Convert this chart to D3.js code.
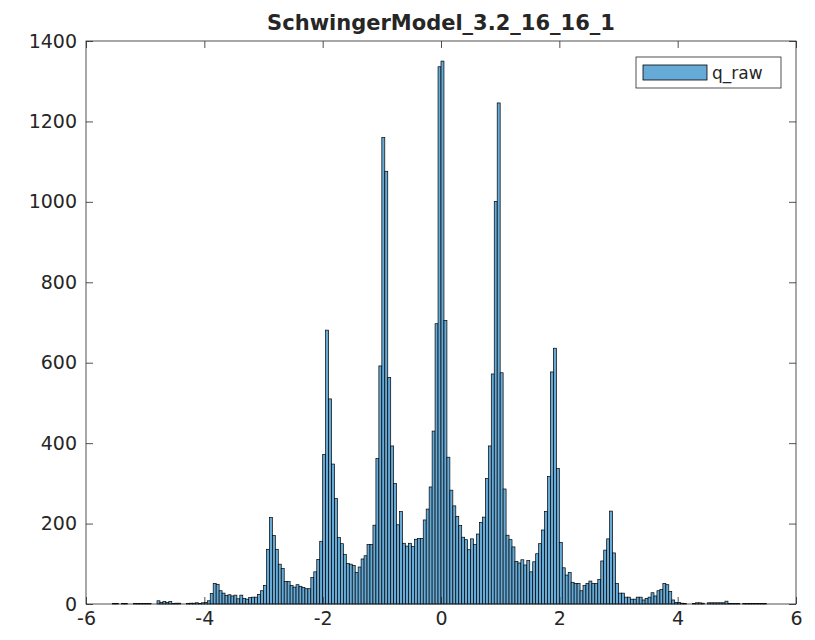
<!DOCTYPE html>
<html>
<head>
<meta charset="utf-8">
<script src="https://cdn.jsdelivr.net/npm/d3@7"></script>
<style>
  html, body { margin: 0; padding: 0; background: #fff; }
  svg { display: block; }
  text { font-family: "DejaVu Sans", sans-serif; fill: #262626; }
</style>
</head>
<body>
<svg id="chart" width="815" height="640"></svg>
<script>
// Histogram of q_raw: first bin's left edge and the common bin width
const binStart = -5.6;
const binWidth = 0.05;

// Counts per bin, left to right
const counts = [
  0, 1, 1, 0, 1, 1, 0, 0, 1, 1,            // -5.60 .. -5.15
  1, 1, 1, 1, 0, 0, 8, 4, 6, 4,            // -5.10 .. -4.65
  6, 1, 2, 2, 0, 0, 1, 2, 2, 3,            // -4.60 .. -4.15
  1, 3, 4, 8, 26, 51, 49, 33, 27, 21,      // -4.10 .. -3.65
  23, 20, 22, 13, 22, 14, 12, 16, 17, 17,  // -3.60 .. -3.15
  24, 33, 46, 136, 215, 170, 136, 99, 88, 56, // -3.10 .. -2.65
  56, 46, 42, 48, 44, 41, 38, 38, 66, 80,  // -2.60 .. -2.15
  111, 156, 372, 681, 510, 348, 262, 165, 150, 123, // -2.10 .. -1.65
  101, 99, 96, 78, 92, 112, 120, 148, 148, 196,     // -1.60 .. -1.15
  362, 592, 1160, 1076, 563, 393, 300, 197, 230, 151, // -1.10 .. -0.65
  144, 151, 143, 161, 163, 163, 209, 236, 291, 430,   // -0.60 .. -0.15
  697, 1336, 1350, 705, 365, 283, 244, 218, 195, 166, // -0.10 .. 0.35
  160, 135, 162, 148, 174, 203, 216, 312, 393, 572,   // 0.40 .. 0.85
  1001, 1246, 575, 286, 171, 160, 142, 106, 102, 110, // 0.90 .. 1.35
  97, 108, 80, 105, 125, 150, 184, 230, 317, 577,     // 1.40 .. 1.85
  636, 337, 153, 90, 72, 78, 54, 51, 51, 33,          // 1.90 .. 2.35
  46, 51, 57, 51, 51, 61, 107, 134, 162, 231,         // 2.40 .. 2.85
  127, 51, 27, 27, 17, 17, 12, 12, 17, 17,            // 2.90 .. 3.35
  10, 14, 17, 28, 20, 33, 36, 51, 48, 31,             // 3.40 .. 3.85
  10, 4, 4, 2, 1, 0, 0, 1, 3, 3,                      // 3.90 .. 4.35
  2, 0, 3, 3, 3, 3, 3, 3, 7, 1,                       // 4.40 .. 4.85
  1, 1, 1, 0, 1, 1, 1, 1, 1, 1,                       // 4.90 .. 5.35
  1, 1                                                // 5.40 .. 5.45
];

const xTicks = [-6, -4, -2, 0, 2, 4, 6];
const yTicks = [0, 200, 400, 600, 800, 1000, 1200, 1400];
const chartTitle = "SchwingerModel_3.2_16_16_1";
const seriesName = "q_raw";

const bins = counts.map((c, i) => ({
  x0: binStart + i * binWidth,
  x1: binStart + (i + 1) * binWidth,
  count: c
}));

const svg = d3.select("#chart");
const plotLeft = 86, plotRight = 796, plotTop = 41, plotBottom = 604;
const axisColor = "#262626";
const barFill = "#66aad7";
const tickLen = 7;

const x = d3.scaleLinear().domain([-6, 6]).range([plotLeft, plotRight]);
const y = d3.scaleLinear().domain([0, 1400]).range([plotBottom, plotTop]);

// bars
svg.append("g")
  .selectAll("rect")
  .data(bins.filter(d => d.count > 0))
  .join("rect")
  .attr("x", d => x(d.x0))
  .attr("width", d => x(d.x1) - x(d.x0))
  .attr("y", d => y(d.count))
  .attr("height", d => y(0) - y(d.count))
  .attr("fill", barFill)
  .attr("stroke", "#000")
  .attr("stroke-width", 0.7);

// axes: ticks point inward, mirrored on the top and right edges
const fmt = v => String(v);
const xAxisB = d3.axisBottom(x).tickValues(xTicks).tickFormat(fmt).tickSizeInner(-tickLen).tickSizeOuter(0).tickPadding(8);
const xAxisT = d3.axisTop(x).tickValues(xTicks).tickFormat("").tickSizeInner(-tickLen).tickSizeOuter(0);
const yAxisL = d3.axisLeft(y).tickValues(yTicks).tickFormat(fmt).tickSizeInner(-tickLen).tickSizeOuter(0).tickPadding(9);
const yAxisR = d3.axisRight(y).tickValues(yTicks).tickFormat("").tickSizeInner(-tickLen).tickSizeOuter(0);

function styleAxis(g) {
  g.select(".domain").remove();
  g.selectAll(".tick line").attr("stroke", axisColor).attr("stroke-width", 0.8);
  g.selectAll(".tick text")
    .attr("fill", axisColor)
    .style("font-family", '"DejaVu Sans", sans-serif')
    .style("font-size", "19px");
}

svg.append("g").attr("transform", `translate(0,${plotBottom})`).call(xAxisB).call(styleAxis);
svg.append("g").attr("transform", `translate(0,${plotTop})`).call(xAxisT).call(styleAxis);
svg.append("g").attr("transform", `translate(${plotLeft},0)`).call(yAxisL).call(styleAxis);
svg.append("g").attr("transform", `translate(${plotRight},0)`).call(yAxisR).call(styleAxis);

// box
svg.append("rect")
  .attr("x", plotLeft).attr("y", plotTop)
  .attr("width", plotRight - plotLeft).attr("height", plotBottom - plotTop)
  .attr("fill", "none")
  .attr("stroke", axisColor)
  .attr("stroke-width", 0.8);

// title
svg.append("text")
  .attr("x", (plotLeft + plotRight) / 2)
  .attr("y", 30)
  .attr("text-anchor", "middle")
  .style("font-size", "21px")
  .style("font-weight", "bold")
  .attr("fill", "#000")
  .text(chartTitle);

// legend
const lg = svg.append("g");
lg.append("rect")
  .attr("x", 636).attr("y", 57)
  .attr("width", 145).attr("height", 31)
  .attr("fill", "#fff")
  .attr("stroke", axisColor)
  .attr("stroke-width", 0.8);
lg.append("rect")
  .attr("x", 643).attr("y", 65)
  .attr("width", 64).attr("height", 15)
  .attr("fill", barFill)
  .attr("stroke", "#000")
  .attr("stroke-width", 0.8);
lg.append("text")
  .attr("x", 712).attr("y", 79)
  .style("font-size", "17px")
  .attr("fill", "#000")
  .text(seriesName);
</script>
</body>
</html>
